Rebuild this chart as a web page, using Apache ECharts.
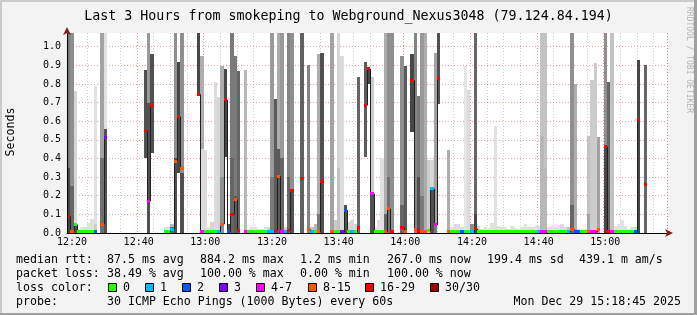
<!DOCTYPE html>
<html><head><meta charset="utf-8">
<script src="https://cdn.jsdelivr.net/npm/echarts@6/dist/echarts.min.js"></script>
<style>html,body{margin:0;padding:0;background:#f3f3f3;}#c{width:697px;height:315px;}</style>
</head><body><div id="c"></div>
<script>
// ---------------- data (one column per minute, 12:18:48 .. 15:18:48) ----------------
const tickLabels = ['12:20','12:40','13:00','13:20','13:40','14:00','14:20','14:40','15:00'];
const yTicks = [0,0.1,0.2,0.3,0.4,0.5,0.6,0.7,0.8,0.9,1.0];

// smoke bottom / top (seconds), null = no data
const smokeLo = [
0,0,0,0,0,0,0,0,0,null,
0,0,null,null,null,null,null,null,null,null,
null,null,null,.40,0,.43,null,null,null,0,
0,0,0,.32,0,null,null,null,null,.74,
0,0,0,0,0,0,0,.41,0,0,
0,0,null,0,0,0,0,0,0,0,
0,0,0,0,0,0,0,0,null,null,
0,null,0,0,0,0,0,null,null,0,
0,0,0,0,0,0,0,0,null,.41,
.80,0,0,0,0,0,0,0,null,null,
0,0,null,.54,0,0,0,0,0,0,
0,.695,null,null,0,0,0,0,0,0,
0,0,0,0,0,0,0,0,0,0,
0,0,0,0,0,0,0,0,0,0,
0,0,0,0,0,0,0,0,0,0,
0,0,0,0,0,0,0,0,0,0,
null,0,0,0,0,0,0,0,0,0,
0,0,null,0,null,null,null,null,null,null];
const smokeHi = [
1.08,1.08,.76,.02,.03,.03,.055,.075,.79,null,
1.08,1.08,null,null,null,null,null,null,null,null,
null,null,null,.875,1.08,.96,null,null,null,.03,
.03,.05,1.08,.92,1.08,null,null,null,null,1.08,
.95,.445,.03,.06,.81,.73,.896,.88,.05,1.08,
.95,.87,null,.875,.02,.03,.03,.02,.02,.03,
.03,1.08,.72,1.08,1.08,.03,1.08,1.08,null,null,
1.08,null,.9,.03,.05,.96,.968,null,null,1.08,
.07,1.08,.95,.15,.06,.07,.05,.84,null,.92,
.885,.84,.03,.07,.40,1.08,1.08,1.08,null,null,
.95,.896,null,.96,1.08,.735,1.08,1.08,.39,.39,
.965,1.08,null,null,.445,.03,.05,.05,.03,.896,
.77,.05,1.08,.04,.02,.03,.025,.055,.574,.04,
.03,.03,.02,.035,.025,.02,.03,.05,.03,.03,
.035,.04,1.08,1.08,.03,.04,.03,.04,.05,.03,
.03,1.08,.8,.02,.02,.02,.52,.82,.914,.517,
null,1.08,.81,1.08,.04,.05,.07,.04,.02,.03,
.03,.928,null,.903,null,null,null,null,null,null];
// smoke density 0..1 (outer band)
const smokeDen = [
.6,.5,.15,.1,.1,.12,.1,.1,.1,null,
.4,.1,null,null,null,null,null,null,null,null,
null,null,null,.8,.45,.8,null,null,null,.1,
.1,.3,.5,.85,.5,null,null,null,null,.85,
.35,.12,.1,.15,.12,.15,.35,.85,.8,.6,
.6,.7,null,.3,.1,.1,.1,.1,.1,.1,
.15,.45,.75,.35,.45,.15,.55,.5,null,null,
.72,null,.55,.25,.3,.35,.8,null,null,.4,
.2,.15,.12,.8,.15,.15,.15,.7,null,.75,
.85,.2,.1,.1,.1,.35,.5,.5,null,null,
.5,.75,null,.85,.55,.6,.45,.35,.2,.15,
.4,.8,null,null,.35,.1,.12,.12,.12,.08,
.12,.5,.7,.15,.1,.1,.1,.1,.1,.1,
.1,.1,.1,.1,.1,.1,.1,.1,.1,.12,
.1,.12,.25,.25,.1,.1,.1,.1,.12,.12,
.25,.5,.35,.15,.1,.1,.25,.2,.2,.4,
null,.5,.7,.25,.1,.1,.1,.1,.1,.1,
.15,.85,null,.7,null,null,null,null,null,null];
// lower core band of the smoke (columns, top of core, density)
const coreCols = [0,1,2,8,10,11,24,31,32,34,40,46,49,50,61,63,64,66,67,75,81,91,95,96,100,105,106,109,110,122,142,143,151,156,161];
const coreHi   = [.35,.25,.05,.05,.4,.56,.7,.03,.4,.32,.45,.3,.4,.2,.3,.45,.4,.3,.23,.1,.35,.21,.1,.3,.15,.3,.2,.234,.05,.1,.52,.35,.15,.1,.46];
const coreDen  = [.85,.7,.8,.2,.65,.8,.8,.7,.8,.8,.12,.5,.7,.75,.6,.75,.7,.7,.8,.6,.25,.8,.7,.65,.7,.8,.6,.8,.6,.85,.3,.3,.7,.4,.85];
// median rtt (seconds)
const median = [
.09,.008,.045,.005,.005,.005,.005,.005,.004,null,
.048,.51,null,null,null,null,null,null,null,null,
null,null,null,.55,.17,.685,null,null,null,.005,
.005,.02,.386,.625,.345,null,null,null,null,.745,
.007,.005,.005,.005,.005,.004,.047,.715,.004,.1,
.18,.012,null,.004,.005,.005,.005,.005,.005,.005,
.004,.005,.016,.305,.004,.004,.012,.23,null,null,
.29,null,.02,.004,.005,.006,.274,null,null,.004,
.005,.005,.004,.123,.005,.004,.005,.03,null,.685,
.882,.21,.005,.005,.005,.006,.13,.005,null,null,
.027,.005,null,.82,.02,.005,.006,.005,.012,.238,
.043,.83,null,null,.005,.005,.005,.005,.004,.005,
.005,.004,.023,.005,.005,.005,.005,.005,.005,.005,
.005,.005,.005,.005,.005,.005,.005,.005,.005,.005,
.005,.005,.004,.004,.005,.005,.005,.005,.005,.005,
.004,.02,.004,.004,.005,.005,.005,.004,.004,.02,
null,.463,.005,.005,.005,.005,.005,.005,.005,.005,
.004,.61,null,.263,null,null,null,null,null,null];
// loss bin index (0:'0' 1:'1' 2:'2' 3:'3' 4:'4-7' 5:'8-15' 6:'16-29' 7:'30/30')
const lossBin = [
6,5,0,0,0,0,0,0,2,null,
5,3,null,null,null,null,null,null,null,null,
null,null,null,6,4,6,null,null,null,0,
0,1,5,6,5,null,null,null,null,6,
4,0,0,0,0,1,5,6,2,6,
5,6,null,4,0,0,0,0,0,0,
1,1,6,5,4,1,6,6,null,null,
6,null,5,1,0,5,6,null,null,5,
0,0,3,2,0,1,0,6,null,6,
6,4,0,0,0,5,5,6,null,null,
6,5,null,6,5,6,5,5,0,1,
4,6,null,null,5,0,0,0,2,0,
0,1,6,0,0,0,0,0,0,0,
0,0,0,0,0,0,0,0,0,0,
0,1,4,4,0,0,0,0,0,0,
1,5,2,2,0,0,5,4,4,5,
null,6,6,4,0,0,0,0,0,0,
2,6,null,6,null,null,null,null,null,null];

const lossLabels = ['0','1','2','3','4-7','8-15','16-29','30/30'];
const lossColors = ['#26ff00','#00b8ff','#0059ff','#7e00ff','#ff00ff','#ff5500','#ff0000','#a10000'];
const rttStats  = ['87.5 ms avg','884.2 ms max','1.2 ms min','267.0 ms now','199.4 ms sd','439.1 m am/s'];
const lossStats = ['38.49 % avg','100.00 % max','0.00 % min','100.00 % now'];
const probeText = '30 ICMP Echo Pings (1000 Bytes) every 60s';
const dateText  = 'Mon Dec 29 15:18:45 2025';
const titleText = 'Last 3 Hours from smokeping to Webground_Nexus3048 (79.124.84.194)';

// ---------------- build ----------------
const N = smokeHi.length;
const cats = [];
for (let i = 0; i < N; i++) {
  const m = 12 * 60 + 19 + i;
  cats.push(String(Math.floor(m / 60)).padStart(2, '0') + ':' + String(m % 60).padStart(2, '0'));
}
const isMajor = (v) => tickLabels.indexOf(v) >= 0;
const isMinor = (v) => (+v.slice(3)) % 5 === 0 && !isMajor(v);
const yMax = 1.0735;
const MONO = '"DejaVu Sans Mono", monospace';
function gray(d) { const g = Math.round(245 - 205 * d); return 'rgb(' + g + ',' + g + ',' + g + ')'; }

const smokeData = [];
for (let i = 0; i < N; i++) {
  if (smokeHi[i] == null) continue;
  const k = coreCols.indexOf(i);
  smokeData.push([i, smokeLo[i], smokeHi[i], smokeDen[i],
    k >= 0 ? coreHi[k] : smokeLo[i], k >= 0 ? coreDen[k] : smokeDen[i]]);
}
const medData = [];
for (let i = 0; i < N; i++) {
  if (median[i] == null) continue;
  const prev = (i > 0 && median[i - 1] != null) ? median[i - 1] : median[i];
  medData.push([i, median[i], prev, lossBin[i]]);
}

function colEdges(api, i) {
  const c = api.coord([i, 0]);
  const w = api.size([1, 0])[0];
  return [Math.round(c[0] - w / 2), Math.round(c[0] + w / 2), c[1]];
}
function renderSmoke(params, api) {
  const i = api.value(0), lo = api.value(1), hi = api.value(2), den = api.value(3);
  const cHi = api.value(4), cDen = api.value(5);
  const cs = params.coordSys;
  const e = colEdges(api, i);
  const yLo = Math.round(api.coord([i, lo])[1]);
  const yHi = Math.max(Math.round(api.coord([i, hi])[1]), cs.y);
  const ch = [{ type: 'rect', shape: { x: e[0], y: yHi, width: e[1] - e[0], height: yLo - yHi },
               style: { fill: gray(den) } }];
  if (cHi > lo) {
    const yC = Math.max(Math.round(api.coord([i, cHi])[1]), cs.y);
    ch.push({ type: 'rect', shape: { x: e[0], y: yC, width: e[1] - e[0], height: yLo - yC },
              style: { fill: gray(cDen) } });
  }
  return { type: 'group', children: ch };
}
function renderMedLine(params, api) {
  const i = api.value(0);
  const e = colEdges(api, i);
  const y = api.coord([i, api.value(1)])[1];
  const yp = api.coord([i, api.value(2)])[1];
  return { type: 'group', children: [
    { type: 'line', shape: { x1: e[0] + 0.5, y1: yp, x2: e[0] + 0.5, y2: y }, style: { stroke: '#202020', lineWidth: 1 } },
    { type: 'line', shape: { x1: e[0], y1: y, x2: e[1], y2: y }, style: { stroke: '#202020', lineWidth: 1 } }
  ]};
}
function renderMarker(params, api) {
  const i = api.value(0);
  const e = colEdges(api, i);
  const y = api.coord([i, api.value(1)])[1];
  const top = Math.min(Math.round(y - 1.5), e[2] - 3);
  return { type: 'rect', shape: { x: e[0], y: top, width: e[1] - e[0], height: 3 },
           style: { fill: lossColors[api.value(3)] } };
}

// ---------------- legend graphics ----------------
const FONT = '11.6px ' + MONO;
const g = [];
function txt(t, x, y, align) {
  g.push({ type: 'text', x: x, y: y, silent: true,
           style: { text: t, font: FONT, fill: '#000', align: align || 'left', verticalAlign: 'middle' } });
}
const row = [259.5, 273.5, 287.5, 301.5];
txt('median rtt:', 16, row[0]);
[107, 200, 300, 387, 487, 579].forEach((x, k) => txt(rttStats[k], x, row[0]));
txt('packet loss:', 16, row[1]);
[107, 200, 300, 387].forEach((x, k) => txt(lossStats[k], x, row[1]));
txt('loss color:', 16, row[2]);
[108, 145, 182, 219, 256, 308, 365, 430].forEach((x, k) => {
  g.push({ type: 'rect', silent: true, shape: { x: x + 0.5, y: 283.5, width: 8, height: 8 },
           style: { fill: lossColors[k], stroke: '#000', lineWidth: 1 } });
  txt(lossLabels[k], x + 15, row[2]);
});
txt('probe:', 16, row[3]);
txt(probeText, 107, row[3]);
txt(dateText, 681, row[3], 'right');
g.push({ type: 'text', x: 11, y: 132, rotation: Math.PI / 2, silent: true,
         style: { text: 'Seconds', font: '11.6px ' + MONO, fill: '#000', align: 'center', verticalAlign: 'middle' } });
g.push({ type: 'text', x: 689, y: 60, rotation: -Math.PI / 2, silent: true,
         style: { text: 'RRDTOOL / TOBI OETIKER', font: '8px ' + MONO, fill: '#b4b4b4', align: 'center', verticalAlign: 'middle' } });
// frame
g.push({ type: 'rect', silent: true, shape: { x: 0, y: 0, width: 697, height: 2 }, style: { fill: '#cbcbcb' } });
g.push({ type: 'rect', silent: true, shape: { x: 0, y: 0, width: 2, height: 315 }, style: { fill: '#cbcbcb' } });
g.push({ type: 'rect', silent: true, shape: { x: 694, y: 0, width: 3, height: 315 }, style: { fill: '#a0a0a0' } });
g.push({ type: 'rect', silent: true, shape: { x: 0, y: 313, width: 697, height: 2 }, style: { fill: '#a0a0a0' } });

const hidden = { axisLine: { show: false }, axisTick: { show: false }, axisLabel: { show: false } };
const arrowOnly = { show: true, lineStyle: { color: '#8b1a1a', width: 0 }, symbol: ['none', 'arrow'], symbolSize: [6, 8], symbolOffset: [0, 6] };
const chart = echarts.init(document.getElementById('c'), null, { renderer: 'canvas' });
chart.setOption({
  animation: false,
  backgroundColor: '#f3f3f3',
  title: { text: titleText, left: 'center', top: 5,
           textStyle: { fontFamily: MONO, fontSize: 13.3, fontWeight: 'normal', color: '#000' } },
  grid: { left: 67, top: 33, width: 600, height: 200, show: true, backgroundColor: '#fff', borderWidth: 0 },
  xAxis: [
    { type: 'category', data: cats, boundaryGap: true, z: 5, position: 'bottom',
      axisLine: { show: true, lineStyle: { color: '#000', width: 1 } },
      axisTick: { show: false },
      axisLabel: { interval: (idx, v) => isMajor(v), fontFamily: MONO, fontSize: 10, color: '#000', margin: 4 },
      splitLine: { show: false } },
    Object.assign({ type: 'category', data: cats, boundaryGap: true, z: 0, position: 'bottom',
      splitLine: { show: true, interval: (idx, v) => isMajor(v), lineStyle: { color: 'rgba(230,80,80,0.55)', type: [1, 2], width: 1 } } }, hidden),
    Object.assign({ type: 'category', data: cats, boundaryGap: true, z: 0, position: 'bottom',
      splitLine: { show: true, interval: (idx, v) => isMinor(v), lineStyle: { color: 'rgba(140,140,140,0.45)', type: [1, 2], width: 1 } } }, hidden),
    Object.assign({ type: 'category', data: cats, boundaryGap: true, z: 6, position: 'bottom', splitLine: { show: false } }, hidden, { axisLine: arrowOnly })
  ],
  yAxis: [
    { type: 'value', min: 0, max: yMax, interval: 0.1, z: 5, position: 'left',
      axisLine: { show: true, lineStyle: { color: '#000', width: 1 } },
      axisTick: { show: false },
      axisLabel: { formatter: (v) => yTicks.indexOf(Math.round(v * 10) / 10) >= 0 && Math.abs(v * 10 - Math.round(v * 10)) < 1e-6 ? v.toFixed(1) : '',
                   showMaxLabel: false, fontFamily: MONO, fontSize: 10, color: '#000', margin: 6 },
      splitLine: { show: false } },
    Object.assign({ type: 'value', min: 0, max: yMax, interval: 0.1, z: 0, position: 'left',
      splitLine: { show: true, showMinLine: false, showMaxLine: false, lineStyle: { color: 'rgba(230,80,80,0.55)', type: [1, 2], width: 1 } } }, hidden),
    Object.assign({ type: 'value', min: 0, max: yMax, interval: 0.1, z: 6, position: 'left', splitLine: { show: false } }, hidden, { axisLine: arrowOnly })
  ],
  series: [
    { type: 'custom', name: 'smoke', coordinateSystem: 'cartesian2d', xAxisIndex: 0, yAxisIndex: 0, z: 2, silent: true,
      data: smokeData, encode: { x: 0, y: [1, 2] }, renderItem: renderSmoke },
    { type: 'custom', name: 'median', coordinateSystem: 'cartesian2d', xAxisIndex: 0, yAxisIndex: 0, z: 3, silent: true,
      data: medData, encode: { x: 0, y: 1 }, renderItem: renderMedLine },
    { type: 'custom', name: 'loss', coordinateSystem: 'cartesian2d', xAxisIndex: 0, yAxisIndex: 0, z: 4, silent: true,
      data: medData, encode: { x: 0, y: 1 }, renderItem: renderMarker }
  ],
  graphic: g
});
</script></body></html>
